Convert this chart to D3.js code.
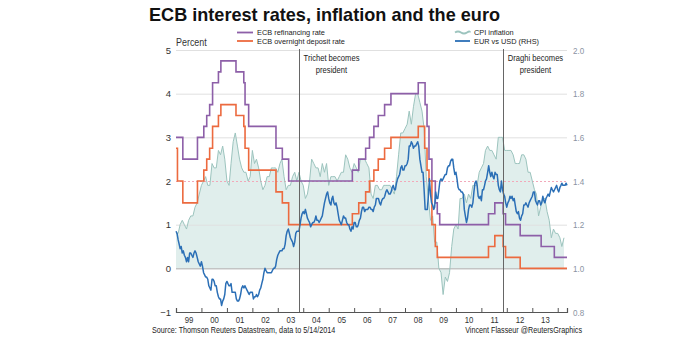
<!DOCTYPE html>
<html><head><meta charset="utf-8">
<script src="https://cdn.jsdelivr.net/npm/d3@7"></script>
<style>
body{margin:0;background:#fff}
svg{display:block}
text{font-family:"Liberation Sans",Arial,Helvetica,sans-serif}
</style>
</head><body>
<svg id="chart" width="692" height="338"></svg>
<script>
// ---------------- DATA ----------------
const titleText = "ECB interest rates, inflation and the euro";
const yearTicks = [1999,2000,2001,2002,2003,2004,2005,2006,2007,2008,2009,2010,2011,2012,2013,2014];
const yearLabels = ["99","00","01","02","03","04","05","06","07","08","09","10","11","12","13"];
const leftTicks = [-1,0,1,2,3,4,5];
const rightTicks = [0.8,1.0,1.2,1.4,1.6,1.8,2.0];

// ECB main refinancing rate (change dates, %)
const refiDates = ["1999-01-01","1999-04-09","1999-11-05","2000-02-04","2000-03-17","2000-04-28","2000-06-09","2000-09-01","2000-10-06","2001-05-11","2001-08-31","2001-09-18","2001-11-09","2002-12-06","2003-03-07","2003-06-06","2005-12-06","2006-03-08","2006-06-15","2006-08-09","2006-10-11","2006-12-13","2007-03-14","2007-06-13","2008-07-09","2008-10-15","2008-11-12","2008-12-10","2009-01-21","2009-03-11","2009-04-08","2009-05-13","2011-04-13","2011-07-13","2011-11-09","2011-12-14","2012-07-11","2013-05-08","2013-11-13"];
const refiRates = [3.0,2.5,3.0,3.25,3.5,3.75,4.25,4.5,4.75,4.5,4.25,3.75,3.25,2.75,2.5,2.0,2.25,2.5,2.75,3.0,3.25,3.5,3.75,4.0,4.25,3.75,3.25,2.5,2.0,1.5,1.25,1.0,1.25,1.5,1.25,1.0,0.75,0.5,0.25];

// ECB overnight deposit rate (change dates, %)
const depoDates = ["1999-01-01","1999-01-22","1999-04-09","1999-11-05","2000-02-04","2000-03-17","2000-04-28","2000-06-09","2000-09-01","2000-10-06","2001-05-11","2001-08-31","2001-09-18","2001-11-09","2002-12-06","2003-03-07","2003-06-06","2005-12-06","2006-03-08","2006-06-15","2006-08-09","2006-10-11","2006-12-13","2007-03-14","2007-06-13","2008-07-09","2008-10-09","2008-11-12","2008-12-10","2009-01-21","2009-03-11","2009-04-08","2011-04-13","2011-07-13","2011-11-09","2011-12-14","2012-07-11"];
const depoRates = [2.75,2.0,1.5,2.0,2.25,2.5,2.75,3.25,3.5,3.75,3.5,3.25,2.75,2.25,1.75,1.5,1.0,1.25,1.5,1.75,2.0,2.25,2.5,2.75,3.0,3.25,2.75,2.25,2.0,1.0,0.5,0.25,0.5,0.75,0.5,0.25,0.0];

// CPI inflation, monthly from Jan 1999 (%)
const cpiStart = "1999-01-01";
const cpiValues = [
 0.8,0.8,1.0,1.1,1.0,0.9,1.1,1.2,1.2,1.4,1.5,1.7,
 1.9,2.0,2.1,1.9,1.9,2.4,2.3,2.3,2.7,2.6,2.8,2.5,
 2.0,1.9,2.4,2.9,3.1,2.8,2.5,2.3,2.2,2.2,2.0,2.1,
 2.7,2.4,2.5,2.3,2.0,1.8,1.9,2.1,2.1,2.3,2.3,2.3,
 2.2,2.4,2.5,2.1,1.8,1.9,1.9,2.1,2.2,2.0,2.2,2.0,
 1.9,1.6,1.7,2.0,2.5,2.4,2.3,2.3,2.1,2.4,2.2,2.4,
 1.9,2.1,2.1,2.1,2.0,2.1,2.2,2.2,2.6,2.5,2.3,2.2,
 2.4,2.3,2.2,2.5,2.5,2.5,2.4,2.3,1.7,1.6,1.9,1.9,
 1.8,1.8,1.9,1.9,1.9,1.9,1.8,1.7,2.1,2.6,3.1,3.1,
 3.2,3.3,3.6,3.3,3.7,4.0,4.0,3.8,3.6,3.2,2.1,1.6,
 1.1,1.2,0.6,0.6,0.0,-0.1,-0.6,-0.2,-0.3,-0.1,0.5,0.9,
 1.0,0.9,1.6,1.6,1.7,1.5,1.7,1.6,1.9,1.9,1.9,2.2,
 2.3,2.4,2.7,2.8,2.7,2.7,2.6,2.5,3.0,3.0,3.0,2.7,
 2.7,2.7,2.7,2.6,2.4,2.4,2.4,2.6,2.6,2.5,2.2,2.2,
 2.0,1.8,1.7,1.2,1.4,1.6,1.6,1.3,1.1,0.7,0.9,0.8,
 0.8,0.7,0.5,0.7
];

// EUR vs USD, twice a month (1st and 16th) from Jan 1999
const eurStart = "1999-01-01";
const eurEnd = "2014-05-14";
const eurValues = [
 1.17,1.16,1.13,1.11,1.09,1.10,1.07,1.08,1.06,1.05,1.03,1.05,1.03,1.07,1.07,1.06,1.05,1.07,1.08,1.07,1.05,1.03,1.02,1.01,
 1.03,1.01,0.98,0.97,0.96,0.96,0.95,0.92,0.91,0.90,0.95,0.95,0.94,0.92,0.92,0.89,0.87,0.86,0.86,0.83,0.85,0.86,0.88,0.93,
 0.94,0.93,0.92,0.92,0.93,0.89,0.89,0.89,0.89,0.86,0.85,0.85,0.86,0.88,0.91,0.92,0.91,0.92,0.91,0.90,0.89,0.88,0.89,0.89,
 0.89,0.86,0.87,0.87,0.88,0.87,0.88,0.90,0.91,0.93,0.95,0.98,1.00,0.99,0.98,0.98,0.98,0.98,0.98,0.99,1.00,1.00,1.01,1.04,
 1.06,1.07,1.08,1.08,1.08,1.09,1.09,1.11,1.15,1.17,1.18,1.16,1.14,1.13,1.12,1.10,1.12,1.16,1.17,1.17,1.17,1.20,1.23,1.25,
 1.26,1.25,1.27,1.25,1.23,1.22,1.21,1.19,1.20,1.21,1.21,1.22,1.24,1.22,1.22,1.21,1.22,1.23,1.24,1.27,1.30,1.32,1.34,1.35,
 1.32,1.30,1.29,1.32,1.33,1.30,1.29,1.30,1.28,1.25,1.22,1.21,1.20,1.22,1.24,1.23,1.23,1.21,1.20,1.20,1.18,1.17,1.19,1.18,
 1.21,1.21,1.19,1.19,1.20,1.22,1.23,1.26,1.28,1.28,1.26,1.27,1.27,1.27,1.28,1.28,1.27,1.27,1.26,1.28,1.29,1.32,1.32,1.32,
 1.30,1.29,1.31,1.32,1.32,1.33,1.35,1.36,1.35,1.34,1.34,1.35,1.37,1.38,1.36,1.36,1.39,1.41,1.42,1.43,1.46,1.47,1.45,1.45,
 1.47,1.47,1.48,1.50,1.56,1.56,1.58,1.57,1.55,1.56,1.56,1.57,1.58,1.56,1.50,1.47,1.44,1.44,1.36,1.27,1.27,1.27,1.33,1.41,
 1.34,1.30,1.29,1.27,1.28,1.35,1.32,1.32,1.36,1.40,1.41,1.40,1.41,1.42,1.43,1.43,1.46,1.47,1.47,1.49,1.50,1.50,1.46,1.43,
 1.44,1.41,1.37,1.36,1.36,1.35,1.35,1.34,1.27,1.24,1.21,1.23,1.27,1.29,1.29,1.28,1.30,1.35,1.39,1.40,1.38,1.33,1.32,1.33,
 1.31,1.36,1.36,1.38,1.40,1.41,1.44,1.47,1.44,1.42,1.44,1.42,1.41,1.44,1.43,1.43,1.38,1.36,1.35,1.40,1.36,1.34,1.33,1.30,
 1.28,1.30,1.31,1.33,1.32,1.33,1.31,1.32,1.29,1.26,1.25,1.26,1.23,1.22,1.24,1.25,1.29,1.29,1.30,1.29,1.28,1.30,1.31,1.32,
 1.33,1.35,1.35,1.31,1.30,1.29,1.31,1.31,1.29,1.30,1.33,1.31,1.30,1.32,1.33,1.34,1.33,1.35,1.37,1.36,1.35,1.36,1.37,1.38,
 1.36,1.35,1.37,1.38,1.39,1.38,1.38,1.38,1.39,1.38
];

const events = [
  {date:"2003-11-01", lines:["Trichet becomes","president"]},
  {date:"2011-11-01", lines:["Draghi becomes","president"]}
];

const legendLeft = ["ECB refinancing rate","ECB overnight deposit rate"];
const legendRight = ["CPI inflation","EUR vs USD (RHS)"];
const sourceText = "Source: Thomson Reuters Datastream, data to 5/14/2014";
const creditText = "Vincent Flasseur @ReutersGraphics";

// ---------------- STYLE ----------------
const C = {
  refi:"#8d5fa8", depo:"#ec6a3f", cpiLine:"#9cc4be", cpiFill:"#e0eeec",
  eur:"#2b6fb6", grid:"#e0e0e0", zero:"#a9a9a9", pink:"#f2a9ba",
  axis:"#555", text:"#333", rtext:"#8a93a3", vline:"#666"
};
const M = {left:176, right:567, top:50, bottom:312};

// ---------------- BUILD ----------------
const svg = d3.select("#chart");
const parse = d3.utcParse("%Y-%m-%d");
const endDate = parse(eurEnd);

const x = d3.scaleUtc().domain([parse("1999-01-01"), endDate]).range([M.left, M.right]);
const yL = d3.scaleLinear().domain([-1,5]).range([M.bottom, M.top]);
const yR = d3.scaleLinear().domain([0.8,2.0]).range([M.bottom, M.top]);

function squeeze(sel, f){
  sel.each(function(){
    const w = this.getComputedTextLength();
    d3.select(this).attr("textLength", w*f).attr("lengthAdjust","spacingAndGlyphs");
  });
}

const cpi0 = parse(cpiStart);
const cpiData = cpiValues.map((v,i)=>({d:d3.utcMonth.offset(cpi0,i), v}));
const eur0 = parse(eurStart);
const eurData = eurValues.map((v,i)=>{
  let d = d3.utcMonth.offset(eur0, Math.floor(i/2));
  if(i%2===1) d = d3.utcDay.offset(d,15);
  if(d > endDate) d = endDate;
  return {d, v};
});
function stepData(dates, rates){
  const arr = dates.map((s,i)=>({d:parse(s), v:rates[i]}));
  arr.push({d:endDate, v:rates[rates.length-1]});
  return arr;
}
const refiData = stepData(refiDates, refiRates);
const depoData = stepData(depoDates, depoRates);

// CPI area
svg.append("path").datum(cpiData)
  .attr("fill", C.cpiFill)
  .attr("d", d3.area().x(d=>x(d.d)).y0(yL(0)).y1(d=>yL(d.v)));

// gridlines
const gridG = svg.append("g");
leftTicks.filter(t=>t>-1).forEach(t=>{
  gridG.append("line")
    .attr("x1",M.left).attr("x2",M.right)
    .attr("y1",yL(t)+0.5).attr("y2",yL(t)+0.5)
    .attr("stroke", t===0 ? C.zero : (t===2 ? C.pink : C.grid))
    .attr("stroke-width", 1)
    .attr("stroke-dasharray", t===2 ? "2,2" : null);
});

// CPI line
svg.append("path").datum(cpiData)
  .attr("fill","none").attr("stroke",C.cpiLine).attr("stroke-width",1)
  .attr("d", d3.line().x(d=>x(d.d)).y(d=>yL(d.v)));

// rate lines
const stepLine = d3.line().curve(d3.curveStepAfter).x(d=>x(d.d)).y(d=>yL(d.v));
svg.append("path").datum(refiData).attr("fill","none").attr("stroke",C.refi).attr("stroke-width",1.6).attr("d",stepLine);
svg.append("path").datum(depoData).attr("fill","none").attr("stroke",C.depo).attr("stroke-width",1.6).attr("d",stepLine);

// EUR line
svg.append("path").datum(eurData)
  .attr("fill","none").attr("stroke",C.eur).attr("stroke-width",1.5).attr("stroke-linejoin","round")
  .attr("d", d3.line().x(d=>x(d.d)).y(d=>yR(d.v)));

// event lines
events.forEach(e=>{
  const ex = Math.round(x(parse(e.date)))+0.5;
  svg.append("line").attr("x1",ex).attr("x2",ex).attr("y1",M.top-1).attr("y2",M.bottom)
    .attr("stroke",C.vline).attr("stroke-width",1);
  const cx = ex + 32;
  e.lines.forEach((l,i)=>{
    const tt = svg.append("text").attr("x",cx).attr("y",61+i*12)
      .attr("font-size",9.5).attr("fill","#222").attr("text-anchor","middle").text(l);
    squeeze(tt, 0.8);
  });
});

// bottom axis (ticks)
const xAxisTicks = d3.axisBottom(x)
  .tickValues(yearTicks.map(y=>Date.UTC(y,0,1)))
  .tickSize(-4).tickFormat("");
const gx = svg.append("g").attr("transform",`translate(0,${M.bottom})`).call(xAxisTicks);
gx.select(".domain").attr("stroke",C.axis).attr("stroke-width",1.2);
gx.selectAll(".tick line").attr("stroke",C.axis);

// bottom axis labels (mid-year)
const xAxisLabels = d3.axisBottom(x)
  .tickValues(yearLabels.map((l,i)=>Date.UTC(1999+i,6,1)))
  .tickSize(0).tickPadding(4)
  .tickFormat((d,i)=>yearLabels[i]);
const gxl = svg.append("g").attr("transform",`translate(0,${M.bottom})`).call(xAxisLabels);
gxl.select(".domain").remove();
gxl.selectAll("text").attr("font-size",9.5).attr("fill",C.text).attr("font-family",null);
squeeze(gxl.selectAll("text"), 0.82);

// left axis
const gl = svg.append("g").attr("transform",`translate(${M.left},0)`)
  .call(d3.axisLeft(yL).tickValues(leftTicks).tickSize(0).tickPadding(5).tickFormat(d3.format("d")));
gl.select(".domain").remove();
gl.selectAll("text").attr("font-size",9.5).attr("fill",C.text).attr("font-family",null);

// right axis
const gr = svg.append("g").attr("transform",`translate(${M.right},0)`)
  .call(d3.axisRight(yR).tickValues(rightTicks).tickSize(0).tickPadding(6).tickFormat(d3.format(".1f")));
gr.select(".domain").remove();
gr.selectAll("text").attr("font-size",9.5).attr("fill",C.rtext).attr("font-family",null);
squeeze(gr.selectAll("text"), 0.85);

// title
svg.append("text").attr("x",149).attr("y",21).attr("font-size",19).attr("font-weight","bold")
  .attr("fill","#111").attr("textLength",351).attr("lengthAdjust","spacingAndGlyphs").text(titleText);

// Percent label
const pct = svg.append("text").attr("x",176).attr("y",46).attr("font-size",10.5).attr("fill",C.text).text("Percent");
squeeze(pct, 0.85);

// legend
const legColors = [C.refi, C.depo];
const legY = [32.5, 41];
legendLeft.forEach((l,i)=>{
  const yy = legY[i];
  svg.append("line").attr("x1",237).attr("x2",253).attr("y1",yy).attr("y2",yy)
    .attr("stroke",legColors[i]).attr("stroke-width",1.8);
  const t = svg.append("text").attr("x",257).attr("y",yy+2.8).attr("font-size",8).attr("fill","#222").text(l);
  squeeze(t, 0.92);
});
legendRight.forEach((l,i)=>{
  const yy = legY[i];
  if(i===0){
    svg.append("path").attr("d",`M455,${yy} q3,-2 6,0 t6,0 t3,0`)
      .attr("fill","none").attr("stroke",C.cpiLine).attr("stroke-width",1.8);
  } else {
    svg.append("line").attr("x1",455).attr("x2",470).attr("y1",yy).attr("y2",yy)
      .attr("stroke",C.eur).attr("stroke-width",1.8);
  }
  const t = svg.append("text").attr("x",474).attr("y",yy+2.8).attr("font-size",8).attr("fill","#222").text(l);
  squeeze(t, 0.92);
});

// footer
const src = svg.append("text").attr("x",152).attr("y",333).attr("font-size",9).attr("fill","#222").text(sourceText);
squeeze(src, 0.8);
const cr = svg.append("text").attr("x",582).attr("y",333).attr("text-anchor","end").attr("font-size",9).attr("fill","#222").text(creditText);
squeeze(cr, 0.8);
</script>
</body></html>
